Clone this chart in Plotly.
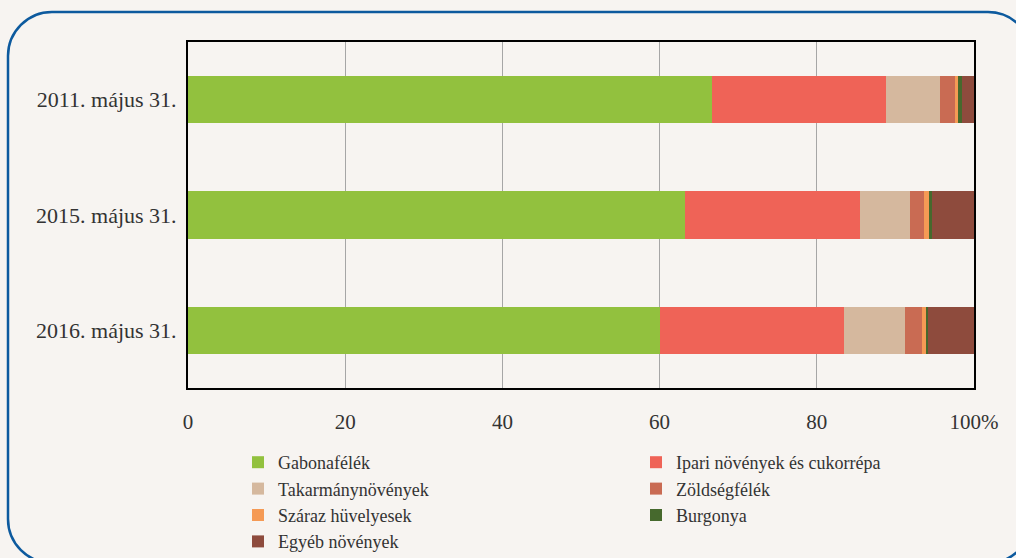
import plotly.graph_objects as go

dates = ['2011. május 31.', '2015. május 31.', '2016. május 31.']
crops = ['Gabonafélék', 'Ipari növények és cukorrépa', 'Takarmánynövények',
         'Zöldségfélék', 'Száraz hüvelyesek', 'Burgonya', 'Egyéb növények']
colors = ['#92c13e', '#ef6357', '#d5b89e', '#c96b53', '#f59a55', '#46692d', '#8e4b3d']
# which of the two legend columns each crop goes into
legend_col = ['legend', 'legend2', 'legend', 'legend2', 'legend', 'legend2', 'legend']

gabona = [66.7, 63.2, 60.1]
ipari = [22.1, 22.3, 23.4]
takarmany = [6.9, 6.4, 7.7]
zoldseg = [1.9, 1.8, 2.2]
szaraz = [0.4, 0.6, 0.5]
burgonya = [0.5, 0.4, 0.2]
egyeb = [1.5, 5.3, 5.9]

series = [gabona, ipari, takarmany, zoldseg, szaraz, burgonya, egyeb]

BG = '#f7f4f1'
FONT = 'Liberation Serif, Times New Roman, serif'

fig = go.Figure()
for name, vals, col, leg in zip(crops, series, colors, legend_col):
    fig.add_trace(go.Bar(y=dates, x=vals, name=name, orientation='h', legend=leg,
                         marker=dict(color=col, line=dict(width=0))))

# plot area in pixels: x 188..974, y 42..388
def px(x):
    return (x - 188) / 786.0

def py(y):
    return (388 - y) / 346.0

# rounded frame around the chart
x0, x1, y0, y1, r = 8, 1032, 12, 563, 44
k = 0.5523 * r
pts = [
    f"M {px(x0 + r)},{py(y0)}",
    f"L {px(x1 - r)},{py(y0)}",
    f"C {px(x1 - r + k)},{py(y0)} {px(x1)},{py(y0 + r - k)} {px(x1)},{py(y0 + r)}",
    f"L {px(x1)},{py(y1 - r)}",
    f"C {px(x1)},{py(y1 - r + k)} {px(x1 - r + k)},{py(y1)} {px(x1 - r)},{py(y1)}",
    f"L {px(x0 + r)},{py(y1)}",
    f"C {px(x0 + r - k)},{py(y1)} {px(x0)},{py(y1 - r + k)} {px(x0)},{py(y1 - r)}",
    f"L {px(x0)},{py(y0 + r)}",
    f"C {px(x0)},{py(y0 + r - k)} {px(x0 + r - k)},{py(y0)} {px(x0 + r)},{py(y0)} Z",
]
fig.add_shape(type='path', path=' '.join(pts), xref='paper', yref='paper',
              line=dict(color='#0d5a9e', width=2.5), layer='below')

leg_style = dict(orientation='v', yanchor='top', xanchor='left', traceorder='normal',
                 font=dict(family=FONT, size=18, color='#333333'),
                 bgcolor='rgba(0,0,0,0)', itemwidth=30, tracegroupgap=0)

fig.update_layout(
    width=1016, height=558,
    barmode='stack', bargap=0.59,
    paper_bgcolor=BG, plot_bgcolor=BG,
    margin=dict(l=188, r=42, t=42, b=170, autoexpand=False),
    font=dict(family=FONT, size=21, color='#333333'),
    showlegend=True,
    legend=dict(x=px(238), y=py(444), **leg_style),
    legend2=dict(x=px(636), y=py(444), **leg_style),
    xaxis=dict(range=[0, 100], tickvals=[0, 20, 40, 60, 80, 100],
               ticktext=['0', '20', '40', '60', '80', '100%'],
               showgrid=True, gridcolor='#a6a6a6', gridwidth=1,
               showline=True, linecolor='black', linewidth=2, mirror=True,
               zeroline=False, ticks='', ticklen=0, ticklabelstandoff=14),
    yaxis=dict(autorange='reversed', showline=True, linecolor='black', linewidth=2,
               mirror=True, ticks='', ticklabelstandoff=5,
               tickfont=dict(size=22)),
)

fig.write_html("out.html", config={'displayModeBar': False},
               post_script="document.body.style.margin='0';")
